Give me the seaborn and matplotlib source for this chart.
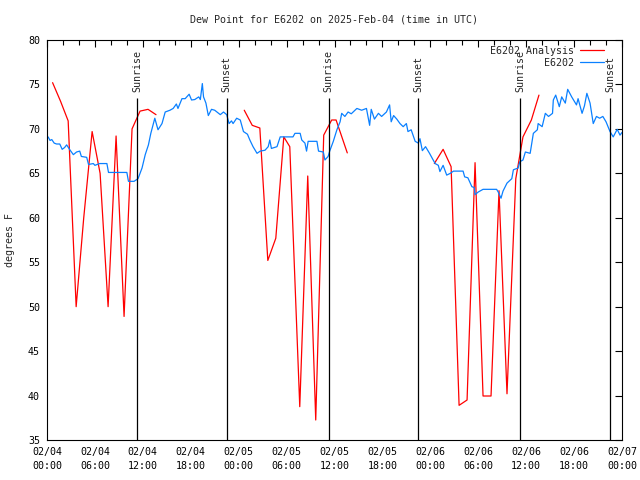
import numpy as np
import pandas as pd
import matplotlib
matplotlib.use('Agg')
import matplotlib.pyplot as plt
import seaborn as sns
from matplotlib.lines import Line2D

# horas desde 02/04 00:00 UTC
obs_horas = [0.0, 0.17, 0.38, 0.6, 0.9, 1.2, 1.6, 1.9, 2.2, 2.46, 2.9, 3.3, 3.7, 4.1, 4.3,
             4.97, 5.2, 5.8, 6.0, 6.6, 7.5, 7.7, 10.0, 10.2, 10.9, 11.4, 11.9, 12.3, 12.7,
             13.0, 13.5, 13.9, 14.4, 14.8, 15.4, 15.8, 16.2, 16.4, 16.9, 17.3, 17.8, 18.1,
             18.5, 19.0, 19.2, 19.45, 19.6, 19.9, 20.2, 20.6, 21.0, 21.7, 22.1, 22.5, 22.8,
             23.1, 23.3, 23.75, 24.2, 24.6, 25.1, 25.4, 25.8, 26.3, 26.7, 27.3, 27.7, 27.9,
             28.1, 28.8, 29.2, 30.8, 31.05, 31.7, 31.9, 32.3, 32.5, 32.7, 33.8, 34.0, 34.6,
             34.8, 35.2, 35.4, 35.85, 36.3, 36.7, 36.9, 37.3, 37.7, 38.1, 38.8, 39.4, 40.0,
             40.4, 40.6, 41.0, 41.5, 41.9, 42.5, 42.9, 43.1, 43.4, 43.8, 44.2, 44.6, 45.0,
             45.2, 45.6, 46.1, 46.5, 46.7, 47.0, 47.4, 47.9, 48.6, 49.0, 49.2, 49.6, 50.05,
             50.5, 50.9, 52.1, 52.3, 52.7, 53.2, 53.5, 53.6, 54.0, 54.6, 56.3, 56.5, 56.85,
             57.1, 57.6, 58.2, 58.4, 59.0, 59.2, 59.6, 59.9, 60.5, 60.7, 60.9, 61.4, 61.5,
             62.0, 62.4, 62.8, 63.3, 63.4, 63.7, 64.15, 64.45, 64.9, 65.2, 65.7, 66.3, 66.5,
             67.0, 67.3, 67.6, 68.0, 68.4, 68.8, 69.2, 69.6, 70.0, 70.5, 70.9, 71.4, 71.75,
             72.0]
obs_dew = [69.2, 69.05, 68.7, 68.8, 68.4, 68.3, 68.3, 67.7, 67.9, 68.2, 67.6, 67.1, 67.4, 67.5, 66.9,
           66.8, 66.0, 66.1, 65.9, 66.1, 66.1, 65.1, 65.1, 64.1, 64.1, 64.4, 65.6, 67.1, 68.2,
           69.5, 71.2, 69.9, 70.6, 71.9, 72.1, 72.3, 72.8, 72.3, 73.4, 73.4, 73.9, 73.25,
           73.3, 73.6, 73.3, 75.1, 73.6, 72.9, 71.5, 72.2, 72.1, 71.6, 71.9, 71.6, 70.6,
           70.9, 70.6, 71.2, 71.0, 69.7, 69.4, 68.75, 68.0, 67.25, 67.5, 67.6, 68.0, 68.75,
           67.8, 68.0, 69.1, 69.1, 69.5, 69.5, 68.75, 68.4, 67.5, 68.6, 68.6, 67.5, 67.4,
           66.5, 66.9, 67.5, 68.6, 69.9, 70.8, 71.75, 71.4, 71.9, 71.7, 72.3, 72.1, 72.3,
           70.4, 72.2, 71.1, 71.75, 71.4, 71.9, 72.7, 70.8, 71.5, 71.1, 70.6, 70.25, 70.6,
           69.7, 69.9, 68.6, 68.4, 68.9, 67.55, 68.0, 67.25, 66.1, 65.9, 65.2, 65.9, 64.8,
           65.0, 65.25, 65.25, 64.6, 64.5, 63.5, 63.4, 62.6, 62.9, 63.2, 63.2, 62.9, 62.2,
           63.0, 63.9, 64.4, 65.4, 65.6, 66.3, 66.5, 67.4, 67.25, 68.4, 69.5, 69.9, 70.6,
           70.25, 71.75, 71.4, 71.75, 73.25, 73.8, 72.5, 73.6, 72.9, 74.45, 73.6, 72.7, 73.4,
           71.75, 72.6, 74.0, 72.9, 70.6, 71.4, 71.2, 71.4, 70.8, 69.7, 69.1, 69.95, 69.3,
           69.6]

# analise (tres trechos separados)
ana_horas_1 = [0.7, 1.7, 2.65, 3.65, 4.6, 5.65, 6.65, 7.65, 8.65, 9.65, 10.65, 11.65, 12.65, 13.65]
ana_dew_1 = [75.2, 73.1, 70.9, 50.0, 60.0, 69.7, 65.0, 50.0, 69.2, 48.9, 70.0, 72.0, 72.2, 71.6]
ana_horas_2 = [24.7, 25.7, 26.65, 27.65, 28.65, 29.65, 30.4, 31.65, 32.65, 33.65, 34.65, 35.65, 36.2, 37.6]
ana_dew_2 = [72.1, 70.4, 70.1, 55.2, 57.7, 69.1, 68.0, 38.75, 64.7, 37.25, 69.3, 71.0, 71.0, 67.3]
ana_horas_3 = [48.5, 49.6, 50.6, 51.6, 52.6, 53.6, 54.6, 55.6, 56.6, 57.6, 58.7, 59.6, 60.65, 61.6]
ana_dew_3 = [66.1, 67.7, 65.75, 38.9, 39.5, 66.2, 39.95, 39.95, 63.05, 40.2, 64.4, 69.1, 71.0, 73.8]

# nascer / por do sol
sol_horas = [11.3, 22.5, 35.25, 46.5, 59.25, 70.55]
sol_nomes = ['Sunrise', 'Sunset', 'Sunrise', 'Sunset', 'Sunrise', 'Sunset']

tick_horas = list(range(0, 73, 6))
tick_nomes = ['02/04\n00:00', '02/04\n06:00', '02/04\n12:00', '02/04\n18:00',
              '02/05\n00:00', '02/05\n06:00', '02/05\n12:00', '02/05\n18:00',
              '02/06\n00:00', '02/06\n06:00', '02/06\n12:00', '02/06\n18:00',
              '02/07\n00:00']

sns.set_theme(style='white')
plt.rcParams['font.family'] = ['DejaVu Sans Mono']
plt.rcParams['font.size'] = 7.2
plt.rcParams['axes.edgecolor'] = 'black'
plt.rcParams['axes.linewidth'] = 0.8

obs = pd.DataFrame({'hora': obs_horas, 'dew': obs_dew})
ana = pd.concat([
    pd.DataFrame({'hora': ana_horas_1, 'dew': ana_dew_1, 'trecho': 1}),
    pd.DataFrame({'hora': ana_horas_2, 'dew': ana_dew_2, 'trecho': 2}),
    pd.DataFrame({'hora': ana_horas_3, 'dew': ana_dew_3, 'trecho': 3}),
])

fig = plt.figure(figsize=(6.4, 4.8), dpi=100)
ax = fig.add_axes([47 / 640, 40 / 480, 575 / 640, 400 / 480])

sns.lineplot(data=ana, x='hora', y='dew', units='trecho', estimator=None,
             color='#ff0000', lw=0.9, ax=ax)
sns.lineplot(data=obs, x='hora', y='dew', color='#0a80ff', lw=0.9, ax=ax)

for h, nome in zip(sol_horas, sol_nomes):
    ax.vlines(h, 35, 73.45, color='black', lw=0.9)
    ax.text(h, 74.1, nome, rotation=90, ha='center', va='bottom', fontsize=7.2)

ax.set_xlim(0, 72)
ax.set_ylim(35, 80)
ax.set_xticks(tick_horas)
ax.set_xticklabels(tick_nomes, linespacing=1.45)
ax.set_xticks(range(0, 73, 2), minor=True)
ax.set_yticks(range(35, 81, 5))
ax.tick_params(direction='in', top=True, right=True, which='both', colors='black',
               labelsize=7.2, pad=5)
ax.tick_params(which='major', length=5, width=0.8)
ax.tick_params(which='minor', length=3.5, width=0.8)
ax.set_xlabel('')
ax.set_ylabel('')

fig.text(10 / 640, 0.5, 'degrees F', rotation=90, ha='center', va='center', fontsize=7.2)
fig.text(334 / 640, 1 - 20 / 480, 'Dew Point for E6202 on 2025-Feb-04 (time in UTC)',
         ha='center', va='center', fontsize=7.2)

handles = [Line2D([], [], color='#ff0000', lw=0.9), Line2D([], [], color='#0a80ff', lw=0.9)]
ax.legend(handles, ['E6202 Analysis', '         E6202'], loc='upper right',
          bbox_to_anchor=(557 / 575, 394 / 400), frameon=False, markerfirst=False,
          handlelength=2.4, handletextpad=0.6, labelspacing=0.2, borderpad=0,
          borderaxespad=0, fontsize=7.2)

fig.savefig('out.png', dpi=100)
